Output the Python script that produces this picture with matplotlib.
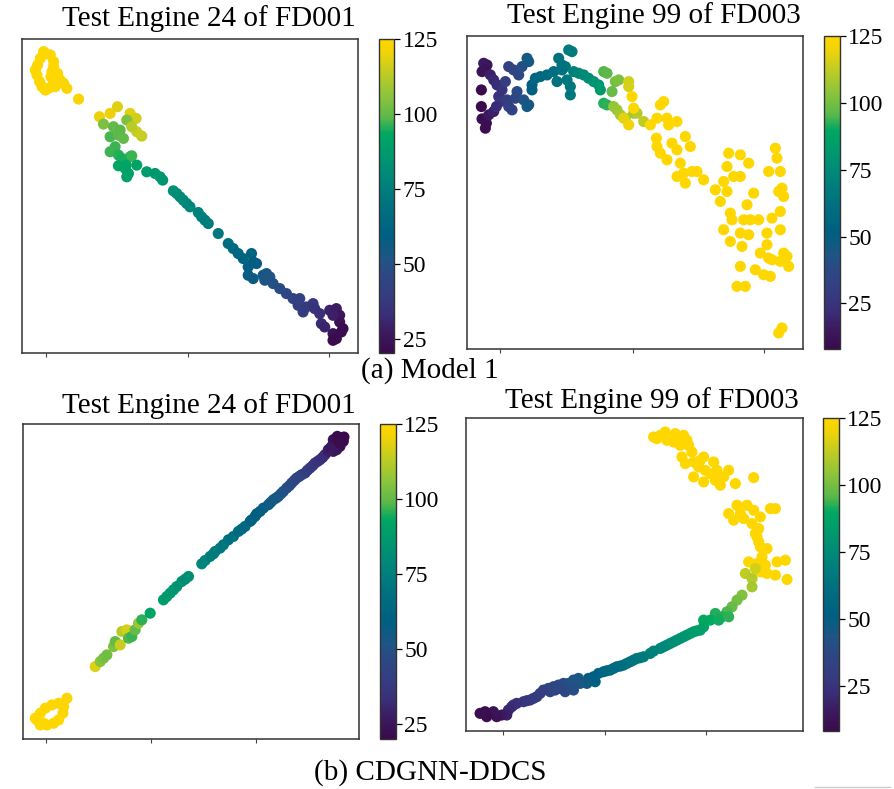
import numpy as np
import matplotlib
matplotlib.use('Agg')
import matplotlib.pyplot as plt
from matplotlib.lines import Line2D
from matplotlib.colors import LinearSegmentedColormap

plt.rcParams['font.family'] = ['Liberation Serif', 'DejaVu Serif']

# ---- embedding coordinates (arbitrary units) and RUL colour values ----
# (a) Model 1, Test Engine 24 of FD001
m1_fd001_x = [135, 150, 130, 120, 160, 112, 105, 110, 160, 155, 152, 160, 172, 180, 118, 125, 135, 145, 165, 190, 200, 235,
              298, 330, 352, 390, 408, 425, 410, 380, 395, 310, 340, 360, 330, 355, 370, 345, 330, 355, 390, 365, 395,
              355, 378, 410, 385, 380, 375,
              440, 465, 480, 488, 520, 530, 540, 550, 560, 570, 595, 605, 615, 625, 655, 685, 700, 715, 730, 755, 760,
              745, 770, 745, 760, 790, 800, 810, 795, 820, 840, 860, 880, 900, 895, 910, 920, 940, 945, 960, 990, 1010,
              1020, 1020, 1030, 1000, 965, 975, 1000, 1010, 1000, 1025]
m1_fd001_y = [-160, -165, -155, -175, -185, -195, -210, -225, -200, -215, -230, -245, -220, -240, -245, -260, -270, -265,
              -260, -250, -265, -297,
              -350, -340, -320, -340, -355, -408, -395, -360, -380, -372, -380, -390, -410, -405, -415, -440, -455, -465,
              -470, -475, -467, -497, -495, -495, -520, -530, -505,
              -515, -520, -530, -540, -572, -580, -590, -600, -610, -620, -637, -650, -660, -670, -700, -730, -745, -760,
              -775, -760, -785, -800, -790, -825, -835, -825, -820, -830, -840, -850, -865, -880, -895, -895, -915, -935,
              -920, -910, -925, -940, -930, -925, -945, -965, -985, -945, -970, -980, -1000, -1015, -1020, -995]
m1_fd001_rul = [125, 125, 125, 125, 125, 125, 125, 125, 125, 125, 125, 125, 125, 125, 125, 125, 125, 125, 125, 124, 123, 123,
                120, 120, 118, 118, 116, 114, 115, 104, 112, 104, 100, 99, 98, 99, 100, 97, 97, 96, 97, 95, 97,
                92, 92, 91, 90, 90, 91,
                88, 87, 86, 85, 83, 82, 81, 80, 79, 78, 77, 76, 75, 74, 72, 68, 66, 64, 62, 62, 60,
                60, 58, 57, 56, 54, 53, 52, 52, 50, 48, 46, 44, 42, 41, 40, 39, 37, 36, 34, 30, 28,
                26, 24, 22, 29, 32, 30, 24, 22, 21, 22]

# (a) Model 1, Test Engine 99 of FD003
m1_fd003_x = [110, 120, 105, 115, 103, 103, 105, 118, 115, 125, 140, 130, 140, 150, 165, 155, 160, 148,
              185, 200, 175, 215, 180, 195, 185, 210, 205, 230, 245, 225, 240, 245, 255, 240,
              255, 265, 280, 300, 320, 335, 345, 330, 345, 355, 360, 370, 370, 365, 375, 380, 395, 410, 425, 440, 455, 460,
              470, 480, 470, 480, 495, 505, 515,
              500, 510, 520, 535, 545, 545, 530, 545, 560, 570, 590,
              555, 560, 610, 630, 640, 650, 660, 665, 690, 628, 630, 640, 660, 675, 690, 700, 715, 730, 710, 690, 735,
              750, 770, 715, 805, 820, 830, 840, 845, 860, 880, 880, 905, 840, 850, 855, 830, 850, 880, 900, 905, 920,
              890, 910, 935, 885, 880, 870, 895, 925, 950, 970, 940, 960, 960, 975, 965, 985, 990, 965, 1000, 995,
              1005, 1010, 1000, 1000, 1010, 1020, 1025, 1000, 975, 995, 1005]
m1_fd003_y = [-190, -195, -215, -210, -270, -320, -357, -370, -385, -345, -335, -225, -240, -255, -270, -290, -305, -320,
              -200, -210, -245, -225, -300, -330, -320, -275, -295, -300, -315, -200, -175, -185, -270, -320,
              -255, -235, -230, -225, -215, -175, -210, -245, -195, -200, -240, -260, -285, -150, -155, -215, -220, -225,
              -235, -245, -255, -270,
              -215, -220, -310, -315, -275, -245, -240,
              -320, -330, -345, -355, -245, -260, -355, -375, -340, -340, -365,
              -290, -325, -375, -355, -315, -305, -355, -375, -365, -415, -440, -460, -480, -430, -450, -490, -410,
              -440, -520, -530, -515, -515, -540, -550, -570, -605, -545, -500, -460, -530, -465, -530, -490, -575,
              -640, -660, -690, -725, -700, -615, -705, -580, -660, -660, -660, -740, -800, -860, -860, -810, -825,
              -830, -760, -735, -700, -655, -775, -445, -475, -515, -515, -575, -565, -590, -635, -690, -760, -770,
              -800, -785, -780, -1000, -985]
m1_fd003_rul = [15, 14, 12, 13, 9, 9, 10, 11, 10, 15, 18, 18, 20, 22, 25, 24, 26, 22,
                32, 34, 30, 36, 30, 34, 32, 38, 37, 42, 44, 40, 45, 46, 50, 46,
                52, 55, 57, 59, 61, 62, 63, 62, 63, 64, 65, 66, 66, 67, 67, 70, 72, 74, 76, 78, 80, 82,
                95, 96, 92, 93, 98, 100, 101,
                105, 106, 108, 110, 115, 116, 118, 120, 108, 110, 112] + [125] * 73

# (b) CDGNN-DDCS, Test Engine 24 of FD001
m2_fd001_x = [110, 120, 135, 155, 175, 190, 188, 175, 160, 140, 120, 105, 200, 185, 130,
              285, 300, 310, 320, 340, 345, 360, 365, 380, 385, 395, 405, 415, 425, 450,
              490, 500, 510, 520, 530, 545, 555, 565, 605, 615, 630, 640, 645, 660, 670, 685, 700, 715, 725, 735, 750,
              755, 765, 770, 780, 790, 805, 812, 820, 828, 835, 843, 850, 860, 868, 875, 883, 890, 898, 905, 915, 922,
              930, 938, 945, 953, 960, 968, 975, 985, 995, 1005, 1015, 1025, 1030, 1020, 1010, 1000, 985,
              1000, 1012, 1022, 992, 1032, 1018]
m2_fd001_y = [-990, -970, -955, -945, -940, -950, -970, -990, -1000, -1005, -1005, -985, -925, -945, -1000,
              -830, -815, -805, -795, -770, -755, -765, -725, -720, -745, -740, -720, -700, -690, -670,
              -630, -620, -610, -600, -590, -575, -568, -560, -522, -512, -500, -492, -485, -475, -465, -450, -440,
              -425, -418, -410, -395, -390, -380, -372, -365, -355, -345, -338, -330, -325, -320, -312, -305, -295,
              -288, -280, -272, -265, -260, -255, -250, -242, -235, -228, -220, -215, -210, -203, -195, -180, -170,
              -160, -150, -145, -155, -170, -180, -185, -185,
              -150, -140, -160, -175, -142, -158]
m2_fd001_rul = [125, 125, 125, 125, 125, 124, 124, 125, 125, 125, 125, 125, 123, 124, 125,
                118, 105, 103, 102, 104, 100, 115, 112, 116, 98, 97, 100, 108, 96, 92,
                88, 87, 86, 85, 84, 83, 82, 82, 78, 77, 75, 74, 74, 72, 71, 69, 68, 66, 65, 64, 62,
                61, 60, 59, 58, 57, 56, 55, 54, 54, 53, 52, 51, 50, 49, 47, 46, 45, 44, 43, 41, 40,
                38, 37, 36, 35, 34, 33, 32, 29, 27, 25, 23, 21, 20, 22, 24, 25, 28,
                23, 21, 22, 26, 20, 21]

# (b) CDGNN-DDCS, Test Engine 99 of FD003
m2_fd003_x = [620, 640, 655, 685, 710, 720, 700, 680, 660, 735, 705, 715, 740, 755, 770, 775, 800, 790, 770, 740, 805,
              820, 830, 845, 865, 920, 845, 870, 900, 880, 860, 890, 920, 940, 970, 985, 915, 925, 935, 940, 960, 945,
              905, 930, 955, 990, 1015, 985, 1020, 960, 940, 630, 690, 725, 760, 810, 935, 930,
              895, 915, 915, 925,
              885, 870, 855, 840, 825, 845, 805, 790, 770, 770, 760, 815,
              750, 740, 730, 720, 710, 700, 690, 680, 670, 660, 650, 640, 620, 610, 590, 580, 570, 560, 550, 540, 530,
              520, 510, 500, 490, 480, 470, 455, 445, 440, 425, 420, 400, 395, 380, 380, 365, 355, 350, 340, 335, 325,
              320, 310, 305, 290, 280, 270, 260, 250, 240, 230, 210, 200, 195, 185, 180, 165, 150, 140, 120, 115, 100]
m2_fd003_y = [-140, -135, -125, -130, -135, -150, -165, -155, -150, -185, -200, -220, -215, -230, -200, -240, -215, -250,
              -275, -260, -270, -285, -260, -240, -280, -262, -370, -345, -345, -370, -390, -385, -360, -380, -355, -355,
              -400, -430, -455, -470, -475, -500, -515, -520, -525, -515, -510, -555, -568, -550, -545, -145, -145, -165,
              -210, -240, -415, -440,
              -550, -565, -590, -535,
              -615, -630, -650, -665, -680, -680, -670, -690, -690, -710, -720, -690,
              -722, -725, -730, -735, -740, -745, -750, -755, -760, -765, -770, -775, -783, -790, -800, -803, -805, -810,
              -815, -820, -825, -828, -830, -835, -840, -842, -845, -850, -875, -860, -865, -880, -880, -865, -870, -900,
              -880, -905, -880, -895, -885, -900, -890, -905, -895, -900, -910, -920, -925, -930, -932, -935, -940, -945,
              -950, -960, -975, -975, -980, -965, -980, -965, -970]
m2_fd003_rul = [125] * 58 + [112, 110, 108, 115] + [102, 100, 98, 95, 92, 93, 92, 90, 90, 88, 86, 91] + \
               [85, 84, 83, 82, 81, 80, 79, 78, 77, 76, 74, 73, 71, 70, 68, 67, 66, 65, 64, 63, 62,
                61, 60, 59, 58, 57, 56, 54, 52, 52, 50, 48, 44, 45, 43, 40, 41, 38, 40, 37, 38, 36,
                36, 34, 35, 32, 31, 30, 29, 28, 27, 26, 24, 23, 22, 20, 18, 15, 12, 13, 9, 10, 10]

# viridis-like map as it appears in the printed figure (deeper teal, golden yellow)
cmap = LinearSegmentedColormap.from_list('printed_viridis', [
    (0.00, '#3a0a4c'), (0.07, '#3c1c62'), (0.12, '#3a2e78'), (0.18, '#363c80'),
    (0.25, '#2d4884'), (0.30, '#1e5585'), (0.37, '#005f82'), (0.47, '#00727f'),
    (0.55, '#00857a'), (0.62, '#009670'), (0.70, '#00a862'), (0.75, '#5ab84a'),
    (0.82, '#8cc43c'), (0.90, '#c5cd20'), (0.96, '#f2d308'), (1.00, '#ffd700')])

panels = [
    # data, limits, xticks, axes rect, cbar rect, vmin, title, title pos
    (m1_fd001_x, m1_fd001_y, m1_fd001_rul, (65, 1075), (-1058, -117), [138, 565, 988],
     [0.0246, 0.5526, 0.3758, 0.3980], [0.4240, 0.5526, 0.0170, 0.3980], 20.5,
     'Test Engine 24 of FD001', (0.234, 1 - 26 / 789)),
    (m1_fd003_x, m1_fd003_y, m1_fd003_rul, (60, 1068), (-1048, -108), [160, 557, 952],
     [0.5224, 0.5577, 0.3758, 0.3967], [0.9217, 0.5577, 0.0179, 0.3967], 8,
     'Test Engine 99 of FD003', (0.731, 1 - 23 / 789)),
    (m2_fd001_x, m2_fd001_y, m2_fd001_rul, (68, 1077), (-1047, -103), [136, 453, 768],
     [0.0257, 0.0634, 0.3758, 0.3992], [0.4250, 0.0634, 0.0179, 0.3992], 20,
     'Test Engine 24 of FD001', (0.234, 1 - 413 / 789)),
    (m2_fd003_x, m2_fd003_y, m2_fd003_rul, (58, 1068), (-1023, -83), [168, 473, 776],
     [0.5213, 0.0735, 0.3770, 0.3967], [0.9206, 0.0735, 0.0179, 0.3967], 8,
     'Test Engine 99 of FD003', (0.729, 1 - 408 / 789)),
]

fig = plt.figure(figsize=(8.94, 7.89), dpi=100)

for x, y, c, xl, yl, xt, rect, crect, vmin, title, tpos in panels:
    ax = fig.add_axes(rect)
    sc = ax.scatter(x, y, c=c, cmap=cmap, vmin=vmin, vmax=125, s=64, linewidths=0)
    ax.set_xlim(*xl)
    ax.set_ylim(*yl)
    ax.set_xticks(xt)
    ax.set_xticklabels([])
    ax.set_yticks([])
    ax.tick_params(axis='x', length=3, width=0.8, color='#444444')
    for sp in ax.spines.values():
        sp.set_linewidth(1.1)
        sp.set_color('#333333')
    cax = fig.add_axes(crect)
    cb = fig.colorbar(sc, cax=cax, ticks=[25, 50, 75, 100, 125])
    cb.ax.tick_params(labelsize=17, length=4, width=0.9, pad=2)
    cb.outline.set_linewidth(1.0)
    cb.outline.set_edgecolor('#333333')
    fig.text(tpos[0], tpos[1], title, ha='center', va='baseline', fontsize=21)

fig.text(430 / 894, 1 - 378 / 789, '(a) Model 1', ha='center', va='baseline', fontsize=21)
fig.text(430 / 894, 1 - 780 / 789, '(b) CDGNN-DDCS', ha='center', va='baseline', fontsize=21)
fig.add_artist(Line2D([815 / 894, 890 / 894], [1 - 787 / 789, 1 - 787 / 789], color='#cccccc', lw=1))

fig.savefig('out.png', dpi=100)
